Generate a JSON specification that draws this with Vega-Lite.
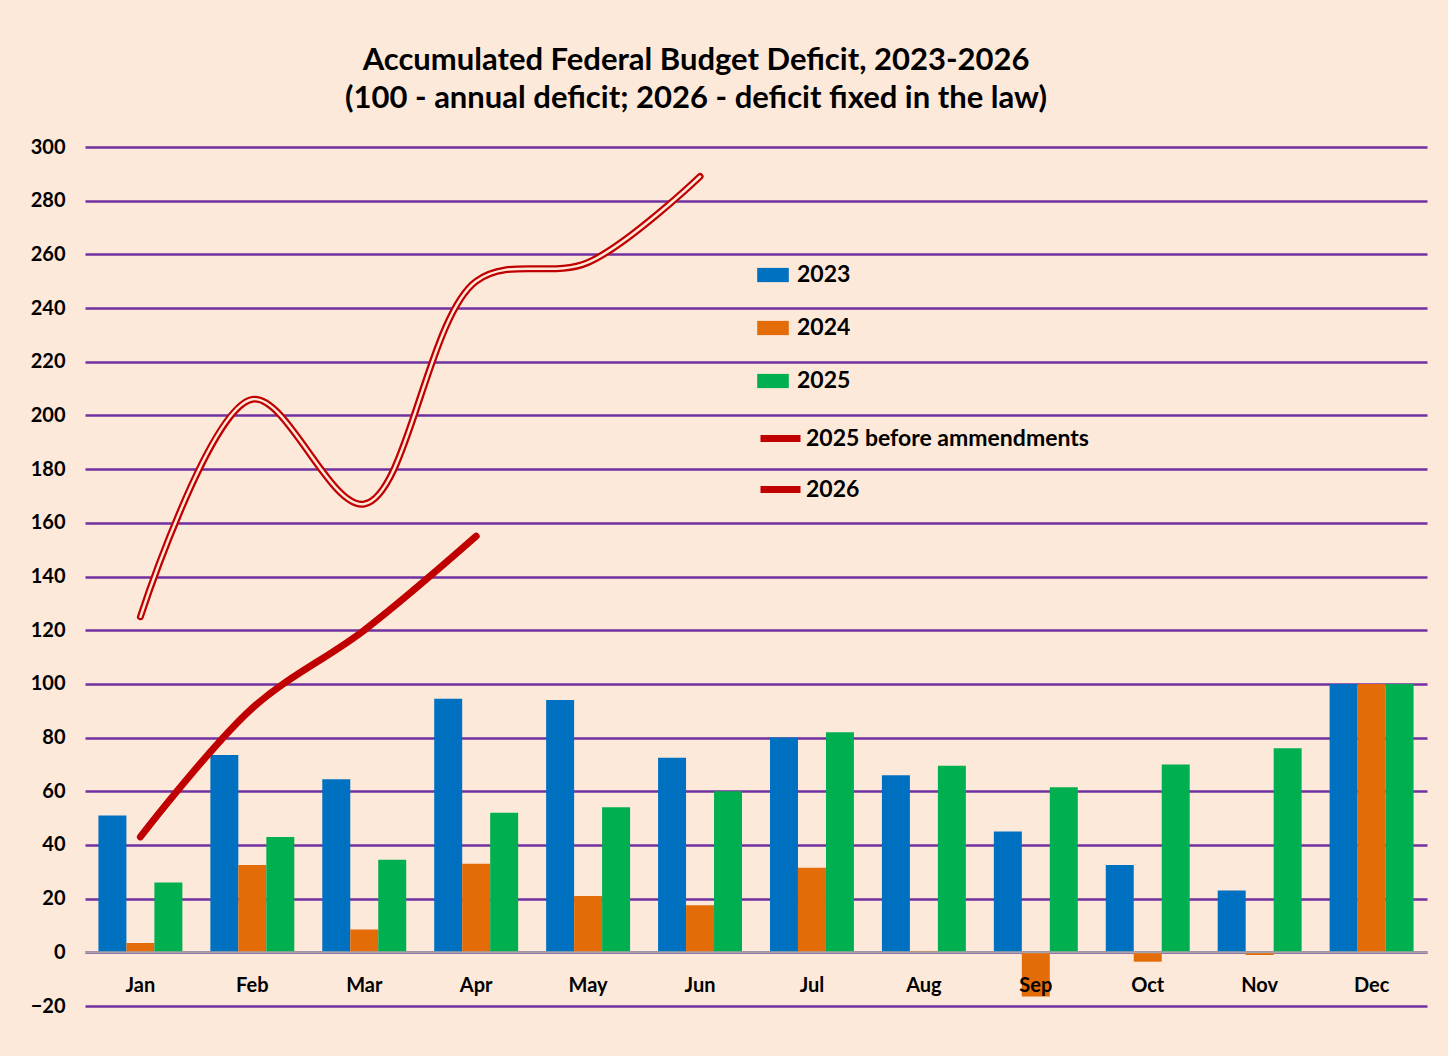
{
  "$schema": "https://vega.github.io/schema/vega-lite/v6.json",
  "width": 1342,
  "height": 859,
  "padding": {"left": 30, "top": 45, "right": 20, "bottom": 40},
  "background": "#FDE9D9",
  "config": {
    "view": {"stroke": null},
    "font": "Lato",
    "axis": {"labelFont": "Lato", "labelFontWeight": "bold", "labelFontSize": 20, "labelColor": "#000"}
  },
  "title": {
    "text": ["Accumulated Federal Budget Deficit, 2023-2026", "(100 - annual deficit; 2026 - deficit fixed in the law)"],
    "fontSize": 31, "fontWeight": "bold", "font": "Lato", "color": "#000",
    "anchor": "middle", "dx": -60, "offset": 22, "lineHeight": 38
  },
  "datasets": {
    "bars": [
      {"month": "Jan", "year": "2023", "value": 51}, {"month": "Jan", "year": "2024", "value": 3.5}, {"month": "Jan", "year": "2025", "value": 26},
      {"month": "Feb", "year": "2023", "value": 73.5}, {"month": "Feb", "year": "2024", "value": 32.5}, {"month": "Feb", "year": "2025", "value": 43},
      {"month": "Mar", "year": "2023", "value": 64.5}, {"month": "Mar", "year": "2024", "value": 8.5}, {"month": "Mar", "year": "2025", "value": 34.5},
      {"month": "Apr", "year": "2023", "value": 94.5}, {"month": "Apr", "year": "2024", "value": 33}, {"month": "Apr", "year": "2025", "value": 52},
      {"month": "May", "year": "2023", "value": 94}, {"month": "May", "year": "2024", "value": 21}, {"month": "May", "year": "2025", "value": 54},
      {"month": "Jun", "year": "2023", "value": 72.5}, {"month": "Jun", "year": "2024", "value": 17.5}, {"month": "Jun", "year": "2025", "value": 60},
      {"month": "Jul", "year": "2023", "value": 80}, {"month": "Jul", "year": "2024", "value": 31.5}, {"month": "Jul", "year": "2025", "value": 82},
      {"month": "Aug", "year": "2023", "value": 66}, {"month": "Aug", "year": "2024", "value": 0.5}, {"month": "Aug", "year": "2025", "value": 69.5},
      {"month": "Sep", "year": "2023", "value": 45}, {"month": "Sep", "year": "2024", "value": -16.5}, {"month": "Sep", "year": "2025", "value": 61.5},
      {"month": "Oct", "year": "2023", "value": 32.5}, {"month": "Oct", "year": "2024", "value": -3.5}, {"month": "Oct", "year": "2025", "value": 70},
      {"month": "Nov", "year": "2023", "value": 23}, {"month": "Nov", "year": "2024", "value": -1}, {"month": "Nov", "year": "2025", "value": 76},
      {"month": "Dec", "year": "2023", "value": 100}, {"month": "Dec", "year": "2024", "value": 100}, {"month": "Dec", "year": "2025", "value": 100}
    ],
    "lines": [
      {"month": "Jan", "series": "2025 before ammendments", "value": 125},
      {"month": "Feb", "series": "2025 before ammendments", "value": 206},
      {"month": "Mar", "series": "2025 before ammendments", "value": 167},
      {"month": "Apr", "series": "2025 before ammendments", "value": 250},
      {"month": "May", "series": "2025 before ammendments", "value": 257},
      {"month": "Jun", "series": "2025 before ammendments", "value": 289},
      {"month": "Jan", "series": "2026", "value": 43},
      {"month": "Feb", "series": "2026", "value": 91},
      {"month": "Mar", "series": "2026", "value": 120},
      {"month": "Apr", "series": "2026", "value": 155}
    ]
  },
  "layer": [
    {
      "data": {"name": "bars"},
      "mark": {"type": "bar"},
      "encoding": {
        "x": {
          "field": "month", "type": "nominal", "sort": ["Jan","Feb","Mar","Apr","May","Jun","Jul","Aug","Sep","Oct","Nov","Dec"],
          "scale": {"paddingInner": 0.25, "paddingOuter": 0.12},
          "axis": {"title": null, "domain": false, "ticks": false, "labelAngle": 0, "labelPadding": -31, "labelFontSize": 20, "zindex": 2}
        },
        "xOffset": {"field": "year", "type": "nominal", "scale": {"paddingInner": 0, "paddingOuter": 0}},
        "y": {
          "field": "value", "type": "quantitative",
          "scale": {"domain": [-20, 300], "nice": false},
          "axis": {"title": null, "values": [-20,0,20,40,60,80,100,120,140,160,180,200,220,240,260,280,300], "grid": true, "gridColor": "#7030A0", "gridWidth": 2.5, "gridOpacity": 1, "domain": false, "ticks": false, "labelPadding": 20}
        },
        "color": {
          "field": "year", "type": "nominal", "title": null,
          "scale": {"domain": ["2023","2024","2025"], "range": ["#0070C0","#E36C09","#00B050"]},
          "legend": {"orient": "none", "legendX": 672, "legendY": 112, "symbolType": "M-1,-0.45H1V0.45H-1Z", "symbolSize": 1000, "symbolStrokeWidth": 0, "labelFontSize": 23, "labelFontWeight": "bold", "labelFont": "Lato", "labelColor": "#000", "rowPadding": 25, "labelOffset": 8}
        }
      }
    },
    {
      "data": {"values": [{"v": 0}]},
      "mark": {"type": "rule", "color": "#A6A6A6", "strokeWidth": 2},
      "encoding": {"y": {"datum": 0}}
    },
    {
      "data": {"name": "lines"},
      "mark": {"type": "line", "interpolate": "catmull-rom", "strokeWidth": 7, "strokeCap": "round"},
      "encoding": {
        "x": {"field": "month", "type": "nominal", "sort": ["Jan","Feb","Mar","Apr","May","Jun","Jul","Aug","Sep","Oct","Nov","Dec"]},
        "y": {"field": "value", "type": "quantitative"},
        "stroke": {
          "field": "series", "type": "nominal", "title": null,
          "scale": {"domain": ["2025 before ammendments", "2026"], "range": ["#C00000", "#C00000"]},
          "legend": {"orient": "none", "legendX": 672, "legendY": 268, "symbolType": "stroke", "symbolSize": 1600, "symbolStrokeWidth": 7, "labelFontSize": 23, "labelFontWeight": "bold", "labelFont": "Lato", "labelColor": "#000", "rowPadding": 13, "labelOffset": 2, "labelLimit": 500}
        }
      }
    },
    {
      "data": {"name": "lines"},
      "transform": [{"filter": "datum.series === '2025 before ammendments'"}],
      "mark": {"type": "line", "interpolate": "catmull-rom", "strokeWidth": 2.5, "color": "#FDE9D9", "strokeCap": "round"},
      "encoding": {
        "x": {"field": "month", "type": "nominal", "sort": ["Jan","Feb","Mar","Apr","May","Jun","Jul","Aug","Sep","Oct","Nov","Dec"]},
        "y": {"field": "value", "type": "quantitative"}
      }
    }
  ]
}
